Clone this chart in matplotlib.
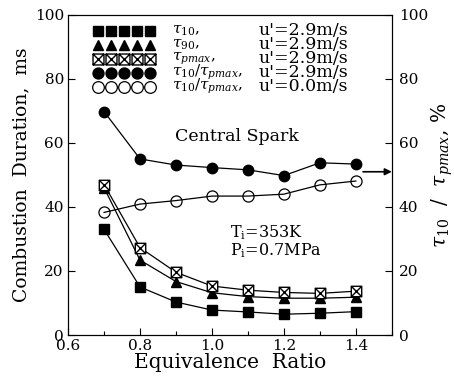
import numpy as np
import matplotlib
matplotlib.use('Agg')
import matplotlib.pyplot as plt
from matplotlib.path import Path

plt.rcParams['font.family'] = ['DejaVu Serif']
plt.rcParams['mathtext.fontset'] = 'dejavuserif'

# data
phi = [0.7, 0.8, 0.9, 1.0, 1.1, 1.2, 1.3, 1.4]
tau10 = [33.0, 15.0, 10.3, 7.8, 7.2, 6.5, 6.8, 7.3]
tau90 = [46.0, 23.4, 16.7, 13.2, 12.0, 11.5, 11.5, 11.8]
tau_pmax = [47.0, 27.3, 19.6, 15.3, 14.0, 13.3, 13.0, 13.7]
ratio_29 = [69.8, 55.0, 53.1, 52.3, 51.6, 49.8, 53.8, 53.4]
ratio_00 = [38.3, 40.9, 42.0, 43.4, 43.4, 44.0, 46.9, 48.1]

labels = [r'$\tau_{10}$,', r'$\tau_{90}$,', r'$\tau_{pmax}$,',
          r'$\tau_{10}/\tau_{pmax}$,', r'$\tau_{10}/\tau_{pmax}$,']
speeds = ["u'=2.9m/s", "u'=2.9m/s", "u'=2.9m/s", "u'=2.9m/s", "u'=0.0m/s"]

# square with an X inside, for tau_pmax
boxx = Path([(-1, -1), (1, -1), (1, 1), (-1, 1), (-1, -1),
             (-1, -1), (1, 1), (-1, 1), (1, -1)],
            [Path.MOVETO, Path.LINETO, Path.LINETO, Path.LINETO, Path.CLOSEPOLY,
             Path.MOVETO, Path.LINETO, Path.MOVETO, Path.LINETO])

fig = plt.figure(figsize=(4.54, 3.82), dpi=100)
ax = fig.add_axes([0.150, 0.123, 0.713, 0.838])
ax2 = ax.twinx()

lw = 0.9
h1, = ax.plot(phi, tau10, 'k-', marker='s', ms=7, lw=lw)
h2, = ax.plot(phi, tau90, 'k-', marker='^', ms=7, lw=lw)
h3, = ax.plot(phi, tau_pmax, 'k-', marker=boxx, ms=7.5, mfc='white', mew=1.0, lw=lw)
h4, = ax2.plot(phi, ratio_29, 'k-', marker='o', ms=7.5, lw=lw)
h5, = ax2.plot(phi, ratio_00, 'k-', marker='o', ms=8, mfc='none', mew=0.9, lw=lw)

ax.set_xlim(0.6, 1.5)
ax.set_ylim(0, 100)
ax2.set_ylim(0, 100)
ax.set_xticks([0.6, 0.8, 1.0, 1.2, 1.4])
ax.set_xticks(np.arange(0.6, 1.51, 0.1), minor=True)
ax.set_yticks([0, 20, 40, 60, 80, 100])
ax2.set_yticks([0, 20, 40, 60, 80, 100])
ax.xaxis.set_major_formatter(plt.FormatStrFormatter('%.1f'))

ax.tick_params(direction='in', length=5, width=0.8, labelsize=11, pad=3)
ax.tick_params(which='minor', direction='in', length=3, width=0.8)
ax2.tick_params(direction='in', length=5, width=0.8, labelsize=11, pad=5)

ax.set_xlabel('Equivalence  Ratio', fontsize=14.5, labelpad=0)
ax.set_ylabel('Combustion  Duration,  ms', fontsize=13.5, labelpad=3)
ax2.set_ylabel(r'$\tau_{10}$  /  $\tau_{pmax}$, %', fontsize=14.5, labelpad=1)

# legend: marker samples only, the texts are placed row by row below
leg = ax.legend([h1, h2, h3, h4, h5], [' '] * 5, loc='upper left',
                bbox_to_anchor=(0.08, 0.968), numpoints=5, handlelength=4.3,
                handleheight=1.0, handletextpad=0.2, labelspacing=0.0,
                frameon=False, fontsize=10, markerscale=1.05, borderaxespad=0,
                borderpad=0)
for line in leg.get_lines():
    line.set_linestyle('none')

row_y = 0.951
row_step = 0.0438
for i, (lab, s) in enumerate(zip(labels, speeds)):
    ax.text(0.32, row_y - i * row_step, lab, transform=ax.transAxes,
            ha='left', va='center', fontsize=11)
    ax.text(0.865, row_y - i * row_step, s, transform=ax.transAxes,
            ha='right', va='center', fontsize=12.5)

ax.text(1.07, 62, 'Central Spark', ha='center', va='center', fontsize=12.5)
ax.text(1.05, 32, r'T$_\mathregular{i}$=353K', ha='left', va='center', fontsize=11.5)
ax.text(1.05, 26.3, r'P$_\mathregular{i}$=0.7MPa', ha='left', va='center', fontsize=11.5)

ax2.annotate('', xy=(1.5, 51), xytext=(1.42, 51),
             arrowprops=dict(arrowstyle='-|>', color='k', lw=1.2,
                             mutation_scale=10, shrinkA=0, shrinkB=0))

fig.savefig('out.png', dpi=100)
